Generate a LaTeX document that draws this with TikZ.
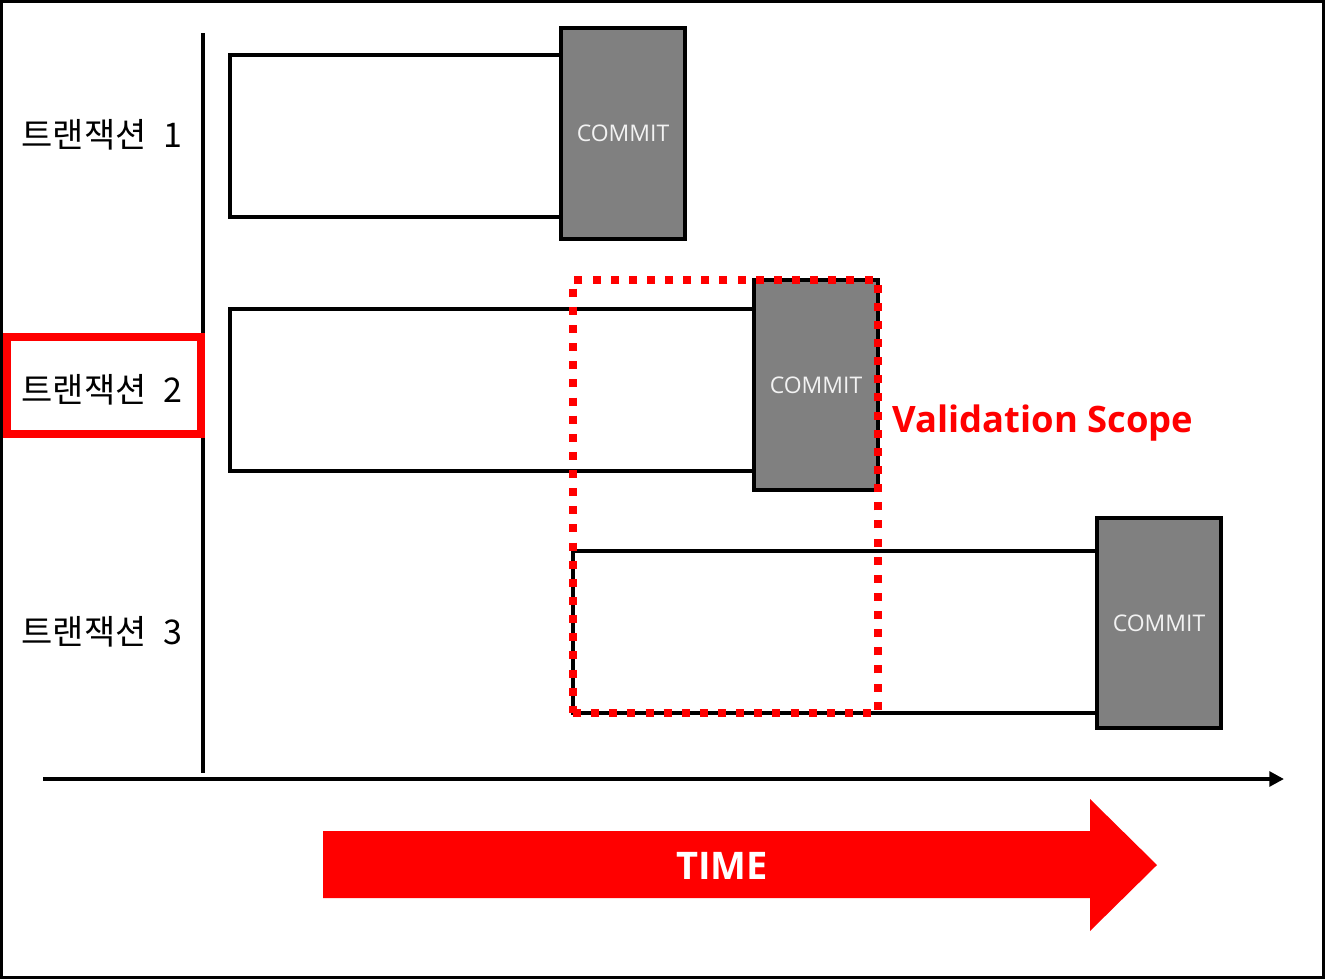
\documentclass[tikz,border=0pt]{standalone}
\usepackage{fontspec}
\setmainfont{Open Sans}
\newfontfamily\kr{Noto Sans CJK KR}
\usetikzlibrary{fit,arrows.meta}
\definecolor{cgray}{RGB}{128,128,128}
\definecolor{cred}{RGB}{255,0,0}
\begin{document}
\begin{tikzpicture}[x=0.75pt,y=-0.75pt,
  txbox/.style={draw=black, line width=2.3pt, fill=white, inner sep=0pt},
  commitbox/.style={draw=black, line width=2.4pt, fill=cgray, inner sep=0pt,
    label={[text=white!95!black, font=\fontsize{17.2}{20}\selectfont]center:COMMIT}},
  txlabel/.style={font=\kr\fontsize{25.5}{29}\selectfont, anchor=center},
  scopebox/.style={draw=cred, line width=6pt, dash pattern=on 6pt off 7.6pt, inner sep=0pt}]
\useasboundingbox (0,0) rectangle (1325,979);
\draw[line width=2.2pt] (1.5,1.5) rectangle (1323.5,977.5);
% axes
\coordinate (ys) at (203,33);
\coordinate (ye) at (203,773);
\coordinate (xs) at (43,779);
\coordinate (xe) at (1284,779);
\draw[line width=3pt] (ys) -- (ye);
\draw[line width=3pt, -{Triangle[length=11pt,width=11pt]}] (xs) -- (xe);
% labels
\node[txlabel] (l1) at (102,135) {트랜잭션\hspace{0.5em}1};
\node[txlabel] (l2) at (102,390) {트랜잭션\hspace{0.5em}2};
\node[txlabel] (l3) at (102,632) {트랜잭션\hspace{0.5em}3};
\node[draw=cred, line width=5.8pt, inner sep=0pt, fit={(7,337) (201,434)}] (l2box) {};
% transaction 1
\node[txbox, fit={(230,55) (561,217)}] (t1) {};
\node[commitbox, fit={(561,28) (685,239)}] (c1) {};
% transaction 2
\node[txbox, fit={(230,309) (754,471)}] (t2) {};
\node[commitbox, fit={(754,280) (878,490)}] (c2) {};
% transaction 3
\node[txbox, fit={(573,551) (1097,713)}] (t3) {};
\node[commitbox, fit={(1097,518) (1221,728)}] (c3) {};
% validation scope
\node[scopebox, fit={(573,280) (878,713)}] (scope) {};
\node[anchor=west, text=cred, font=\bfseries\fontsize{27.3}{32}\selectfont] (vs) at (888,423) {Validation Scope};
% time arrow
\fill[cred] (323,831) -- (1090,831) -- (1090,799) -- (1157,865) -- (1090,931) -- (1090,898) -- (323,898) -- cycle;
\node[text=white, font=\bfseries\fontsize{28.5}{32}\selectfont] (time) at (722,866) {TIME};
\end{tikzpicture}
\end{document}
